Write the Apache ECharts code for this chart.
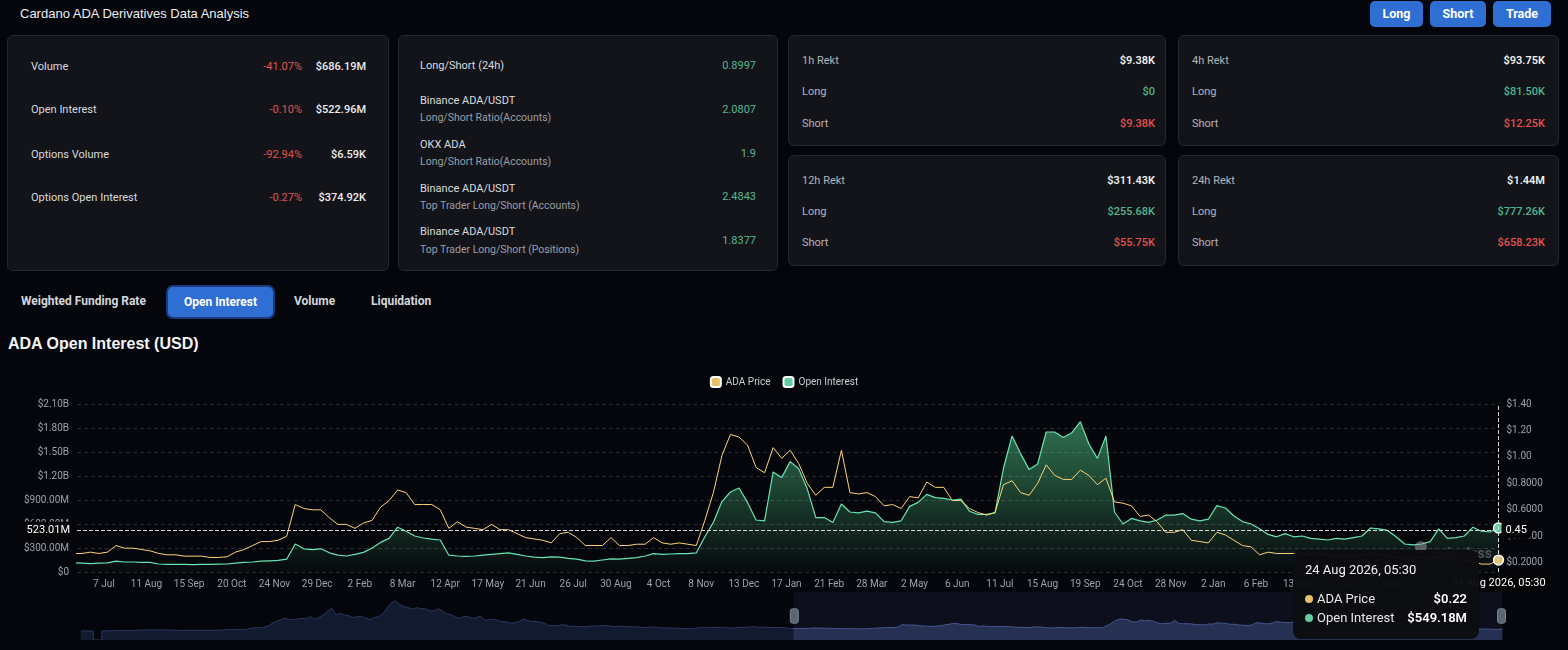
<!DOCTYPE html>
<html>
<head>
<meta charset="utf-8">
<script src="https://cdn.jsdelivr.net/npm/echarts@6/dist/echarts.min.js"></script>
<style>
html,body{margin:0;padding:0;background:#05060b;width:1568px;height:650px;overflow:hidden;font-family:Roboto,"Noto Sans",sans-serif;}
.abs{position:absolute;white-space:nowrap}
#title{left:20px;top:6px;font-size:13px;font-family:"Liberation Sans",Arial,sans-serif;color:#eceef2;line-height:16px}
.btn{position:absolute;top:1px;height:26px;line-height:26px;background:#2f6ed2;color:#fff;font-weight:700;font-size:12.5px;text-align:center;border-radius:5px}
.card{position:absolute;background:#121419;border:1px solid #24272d;border-radius:6px;box-sizing:border-box}
.row{position:absolute;height:16px;line-height:16px;font-size:11px;white-space:nowrap}
.lbl{color:#d9dbdf}
.sub{color:#9a9ea5;font-size:10.5px}
.red{color:#e0524d}
.grn{color:#55b894}
.val{color:#eceef0;font-weight:500}
.lbl2{color:#b2b5bb}
.wv{color:#f0f0f0;font-weight:600}
.gv{color:#4fb48c;font-weight:500}
.rv{color:#e4504b;font-weight:500}
.tab{position:absolute;top:293px;height:16px;line-height:16px;font-size:12px;font-weight:700;color:#d4d6da}
#activeTab{position:absolute;left:166px;top:285px;width:109px;height:34px;box-sizing:border-box;border:2px solid #1b3b7c;border-radius:7px;background:#2f6ed2;color:#fff;font-weight:700;font-size:12px;text-align:center;line-height:30px}
#chartTitle{left:8px;top:334px;font-family:"Liberation Sans",Arial,sans-serif;font-weight:700;font-size:16px;line-height:20px;color:#f4f5f7}
#chart{position:absolute;left:0;top:360px;width:1568px;height:290px}
</style>
</head>
<body>
<div id="title" class="abs">Cardano ADA Derivatives Data Analysis</div>
<div class="btn" style="left:1370px;width:53px">Long</div>
<div class="btn" style="left:1430px;width:56px">Short</div>
<div class="btn" style="left:1493px;width:58px">Trade</div>

<div class="card" style="left:7px;top:35px;width:382px;height:236px">
  <div class="row lbl" style="left:23px;top:23px">Volume</div>
  <div class="row red" style="right:86px;top:23px">-41.07%</div>
  <div class="row val" style="right:22px;top:23px">$686.19M</div>
  <div class="row lbl" style="left:23px;top:66px">Open Interest</div>
  <div class="row red" style="right:86px;top:66px">-0.10%</div>
  <div class="row val" style="right:22px;top:66px">$522.96M</div>
  <div class="row lbl" style="left:23px;top:111px">Options Volume</div>
  <div class="row red" style="right:86px;top:111px">-92.94%</div>
  <div class="row val" style="right:22px;top:111px">$6.59K</div>
  <div class="row lbl" style="left:23px;top:154px">Options Open Interest</div>
  <div class="row red" style="right:86px;top:154px">-0.27%</div>
  <div class="row val" style="right:22px;top:154px">$374.92K</div>
</div>

<div class="card" style="left:398px;top:35px;width:380px;height:236px">
  <div class="row lbl" style="left:21px;top:22px">Long/Short (24h)</div>
  <div class="row grn" style="right:21px;top:22px">0.8997</div>
  <div class="row lbl" style="left:21px;top:57px">Binance ADA/USDT</div>
  <div class="row sub" style="left:21px;top:74px">Long/Short Ratio(Accounts)</div>
  <div class="row grn" style="right:21px;top:66px">2.0807</div>
  <div class="row lbl" style="left:21px;top:101px">OKX ADA</div>
  <div class="row sub" style="left:21px;top:118px">Long/Short Ratio(Accounts)</div>
  <div class="row grn" style="right:21px;top:110px">1.9</div>
  <div class="row lbl" style="left:21px;top:145px">Binance ADA/USDT</div>
  <div class="row sub" style="left:21px;top:162px">Top Trader Long/Short (Accounts)</div>
  <div class="row grn" style="right:21px;top:153px">2.4843</div>
  <div class="row lbl" style="left:21px;top:188px">Binance ADA/USDT</div>
  <div class="row sub" style="left:21px;top:206px">Top Trader Long/Short (Positions)</div>
  <div class="row grn" style="right:21px;top:197px">1.8377</div>
</div>

<div class="card" style="left:788px;top:35px;width:378px;height:111px">
  <div class="row lbl2" style="left:13px;top:17px">1h Rekt</div>
  <div class="row wv" style="right:10px;top:17px">$9.38K</div>
  <div class="row lbl2" style="left:13px;top:48px">Long</div>
  <div class="row gv" style="right:10px;top:48px">$0</div>
  <div class="row lbl2" style="left:13px;top:80px">Short</div>
  <div class="row rv" style="right:10px;top:80px">$9.38K</div>
</div>
<div class="card" style="left:1178px;top:35px;width:381px;height:111px">
  <div class="row lbl2" style="left:13px;top:17px">4h Rekt</div>
  <div class="row wv" style="right:13px;top:17px">$93.75K</div>
  <div class="row lbl2" style="left:13px;top:48px">Long</div>
  <div class="row gv" style="right:13px;top:48px">$81.50K</div>
  <div class="row lbl2" style="left:13px;top:80px">Short</div>
  <div class="row rv" style="right:13px;top:80px">$12.25K</div>
</div>
<div class="card" style="left:788px;top:155px;width:378px;height:111px">
  <div class="row lbl2" style="left:13px;top:17px">12h Rekt</div>
  <div class="row wv" style="right:10px;top:17px">$311.43K</div>
  <div class="row lbl2" style="left:13px;top:48px">Long</div>
  <div class="row gv" style="right:10px;top:48px">$255.68K</div>
  <div class="row lbl2" style="left:13px;top:79px">Short</div>
  <div class="row rv" style="right:10px;top:79px">$55.75K</div>
</div>
<div class="card" style="left:1178px;top:155px;width:381px;height:111px">
  <div class="row lbl2" style="left:13px;top:17px">24h Rekt</div>
  <div class="row wv" style="right:13px;top:17px">$1.44M</div>
  <div class="row lbl2" style="left:13px;top:48px">Long</div>
  <div class="row gv" style="right:13px;top:48px">$777.26K</div>
  <div class="row lbl2" style="left:13px;top:79px">Short</div>
  <div class="row rv" style="right:13px;top:79px">$658.23K</div>
</div>

<div class="tab" style="left:21px">Weighted Funding Rate</div>
<div id="activeTab">Open Interest</div>
<div class="tab" style="left:294px">Volume</div>
<div class="tab" style="left:371px">Liquidation</div>
<div id="chartTitle" class="abs">ADA Open Interest (USD)</div>

<div id="chart"></div>

<script>
// ---- data (weekly samples, Mondays) ----
const firstWeek = '2020-03-30';
// ADA price (USD), one value per week from firstWeek to 2026-08-24
const priceValues = [
  0.033,0.035,0.034,0.038,null,0.05,0.047,0.05,0.055,0.08,
  0.085,0.08,0.08,0.085,0.11,0.13,0.13,0.14,0.14,0.13,
  0.14,0.12,0.10,0.09,0.09,0.10,0.10,0.10,0.10,0.10,
  0.10,0.10,0.11,0.12,0.16,0.16,0.15,0.16,0.16,0.18,
  0.31,0.33,0.35,0.38,0.50,0.75,0.95,1.10,1.25,1.10,
  1.12,1.18,1.23,1.20,1.40,1.15,1.30,1.55,1.90,2.20,
  1.55,1.72,1.55,1.50,1.30,1.40,1.40,1.25,1.10,1.30,
  1.40,1.65,2.20,2.70,2.88,2.55,2.35,2.25,2.10,2.25,
  2.15,2.15,1.95,1.95,2.15,1.95,1.65,1.60,1.35,1.25,
  1.40,1.40,1.25,1.30,1.45,1.05,1.10,1.15,1.05,0.90,
  0.90,0.78,0.82,0.95,1.15,1.05,0.93,0.95,0.85,0.78,
  0.55,0.55,0.52,0.62,0.60,0.45,0.49,0.46,0.45,0.43,
  0.52,0.50,0.51,0.55,0.54,0.46,0.45,0.49,0.48,0.44,
  0.43,0.42,0.37,0.36,0.40,0.41,0.32,0.33,0.31,0.32,
  0.31,0.27,0.26,0.25,0.27,0.33,0.35,0.37,0.39,0.37,
  0.38,0.39,0.35,0.31,0.36,0.38,0.38,0.40,0.44,0.40,
  0.39,0.38,0.36,0.37,0.37,0.37,0.30,
  0.27,0.27,0.28,0.27,0.28,0.33,0.31,0.31,0.30,0.29,
  0.27,0.26,0.26,0.25,0.25,0.25,0.24,0.24,0.245,0.28,
  0.30,0.33,0.36,0.36,0.37,0.40,0.64,0.61,0.60,0.60,
  0.54,0.49,0.49,0.46,0.50,0.52,0.62,0.67,0.75,0.73,
  0.64,0.64,0.64,0.60,0.46,0.51,0.47,0.46,0.45,0.49,
  0.45,0.45,0.42,0.39,0.38,0.37,0.35,0.42,0.43,0.39,
  0.33,0.33,0.33,0.39,0.33,0.33,0.34,0.34,0.39,0.35,
  0.34,0.35,0.34,0.33,0.52,0.73,1.01,1.17,1.15,1.09,
  0.92,0.88,1.07,0.99,1.05,0.95,0.80,0.71,0.77,0.77,
  1.05,0.73,0.72,0.73,0.70,0.63,0.64,0.61,0.70,0.69,
  0.81,0.77,0.77,0.67,0.67,0.61,0.58,0.56,0.58,0.79,
  0.82,0.73,0.71,0.80,0.94,0.86,0.83,0.83,0.90,0.86,
  0.79,0.84,0.66,0.65,0.63,0.55,0.56,0.51,0.43,0.43,
  0.45,0.37,0.36,0.35,0.43,0.41,0.37,0.33,0.32,0.26,
  0.28,0.27,0.27,0.27,0.27,0.26,0.27,0.26,0.25,0.26,
  0.25,0.26,0.27,0.26,0.25,0.24,0.23,0.23,0.24,0.23,
  0.24,0.23,0.22,0.22,0.21,0.19,0.19,0.22
];
const oiFirstWeek = '2023-06-12';
// Open interest (USD millions), one value per week from oiFirstWeek to 2026-08-24
const oiValues = [
  115,110,105,110,115,135,125,125,120,120,
  100,95,95,95,92,95,95,98,100,110,
  120,125,135,140,145,160,350,290,280,290,
  240,210,200,220,245,300,370,420,560,510,
  450,425,410,400,210,200,195,200,210,220,
  230,240,220,200,185,180,190,185,170,160,
  140,135,150,165,160,170,180,200,230,220,
  225,230,230,240,440,620,880,1000,1050,870,
  650,640,1250,1180,1380,1290,1040,680,680,620,
  850,750,740,760,740,630,620,640,820,870,
  970,930,920,900,910,760,720,720,740,1300,
  1700,1480,1280,1350,1750,1750,1680,1740,1880,1600,
  1420,1700,750,600,670,640,620,650,710,710,
  730,660,640,660,830,800,700,630,600,540,
  470,440,480,440,450,420,410,400,420,410,
  430,450,550,540,520,440,350,340,350,380,
  540,420,430,450,560,510,500,549.18
];
// x-axis tick labels
const xTickDates = ['2023-07-07','2023-08-11','2023-09-15','2023-10-20','2023-11-24','2023-12-29',
  '2024-02-02','2024-03-08','2024-04-12','2024-05-17','2024-06-21','2024-07-26','2024-08-30',
  '2024-10-04','2024-11-08','2024-12-13','2025-01-17','2025-02-21','2025-03-28','2025-05-02',
  '2025-06-06','2025-07-11','2025-08-15','2025-09-19','2025-10-24','2025-11-28','2026-01-02',
  '2026-02-06','2026-03-13','2026-04-17','2026-05-22','2026-06-26','2026-07-31'];
const priceTicks = [0.2,0.4,0.6,0.8,1.0,1.2,1.4];
const windowStart = '2023-06-15';

// ---- build ----
const MONTHS = ['Jan','Feb','Mar','Apr','May','Jun','Jul','Aug','Sep','Oct','Nov','Dec'];
const DAY = 86400000, WEEK = 7*DAY;
const utc = s => Date.parse(s + 'T00:00:00Z');
const p0 = utc(firstWeek), o0 = utc(oiFirstWeek);
const priceData = priceValues.map((v,i) => [p0 + i*WEEK, v]);
const oiData = oiValues.map((v,i) => [o0 + i*WEEK, v]);
const lastTs = priceData[priceData.length-1][0];
const pad2 = n => String(n).padStart(2,'0');
function fmtDateTime(ts){
  const d = new Date(ts + 5.5*3600000);
  return d.getUTCDate()+' '+MONTHS[d.getUTCMonth()]+' '+d.getUTCFullYear()+', '+pad2(d.getUTCHours())+':'+pad2(d.getUTCMinutes());
}
function fmtOI(v){
  if (v === 0) return '$0';
  if (v >= 1000) return '$'+(v/1000).toFixed(2)+'B';
  return '$'+v.toFixed(2)+'M';
}
const FONT = 'Roboto, "Noto Sans", sans-serif';
const PRICE_C = '#e6c16a', OI_C = '#5fd0a0';
const GRID_TOP = 44, GRID_H = 168;

const chart = echarts.init(document.getElementById('chart'));
chart.setOption({
  animation:false,
  backgroundColor:'transparent',
  textStyle:{fontFamily:FONT},
  legend:{top:11,left:'center',icon:'roundRect',itemWidth:10,itemHeight:10,itemGap:12,
    textStyle:{color:'#c9ccd1',fontSize:10},data:['ADA Price','Open Interest']},
  grid:{left:77,right:69.5,top:GRID_TOP,height:GRID_H,outerBoundsMode:'none',containLabel:false},
  tooltip:{
    trigger:'axis',
    backgroundColor:'rgba(12,13,17,0.97)',borderWidth:0,padding:[12,12],
    transitionDuration:0,
    extraCssText:'box-shadow:none;border-radius:8px;',
    axisPointer:{type:'cross',
      lineStyle:{color:'#d6d6d6',type:'dashed',width:1},
      crossStyle:{color:'#d6d6d6',type:'dashed',width:1},
      label:{backgroundColor:'#050507',color:'#fff',fontSize:11,padding:[3,4],fontFamily:FONT}},
    formatter:function(params){
      const p = Array.isArray(params)?params:[params];
      let h = '<div style="width:162px;font-family:Roboto,sans-serif">';
      h += '<div style="font-size:13px;line-height:16px;color:#f2f2f2;margin-bottom:11px">'+fmtDateTime(p[0].value[0])+'</div>';
      p.forEach(function(it){
        const v = it.value[1];
        const t = it.seriesName==='ADA Price' ? '$'+v.toFixed(2) : '$'+v.toFixed(2)+'M';
        h += '<div style="display:flex;justify-content:space-between;align-items:center;height:19px;font-size:13px;color:#e8e8e8">'+
             '<span style="display:flex;align-items:center"><span style="display:inline-block;width:8px;height:8px;border-radius:50%;background:'+it.color+';margin-right:4px"></span>'+it.seriesName+'</span>'+
             '<span style="font-weight:600;color:#fff">'+t+'</span></div>';
      });
      return h+'</div>';
    }
  },
  xAxis:{type:'value',min:priceData[0][0],max:lastTs,scale:true,
    axisLine:{show:false},axisTick:{show:false},splitLine:{show:false},
    axisLabel:{customValues:xTickDates.map(utc),color:'#9da1a8',fontSize:10,margin:7,
      formatter:function(v){const d=new Date(v);return d.getUTCDate()+' '+MONTHS[d.getUTCMonth()];}},
    axisPointer:{snap:true,label:{formatter:function(p){return fmtDateTime(p.value);}}}
  },
  yAxis:[
    {type:'value',position:'left',min:0,max:2100,interval:300,
      axisLine:{show:false},axisTick:{show:false},
      splitLine:{show:true,lineStyle:{color:'#2a2d34',type:[4,3],width:1}},
      axisLabel:{color:'#9da1a8',fontSize:10,margin:8,formatter:fmtOI},
      axisPointer:{label:{formatter:function(p){return p.value.toFixed(2)+'M';}}}},
    {type:'value',position:'right',min:0.13,max:1.4,
      axisLine:{show:false},axisTick:{show:false},splitLine:{show:false},
      axisLabel:{customValues:priceTicks,color:'#9da1a8',fontSize:10,margin:8,
        formatter:function(v){return v>=1?'$'+v.toFixed(2):'$'+v.toFixed(4);}},
      axisPointer:{label:{formatter:function(p){return p.value.toFixed(2);}}}}
  ],
  dataZoom:[{
    type:'slider',xAxisIndex:0,filterMode:'none',
    startValue:utc(windowStart),endValue:lastTs,
    left:78,right:68,top:232,height:48,
    backgroundColor:'rgba(0,0,0,0)',borderColor:'transparent',
    fillerColor:'rgba(66,86,150,0.13)',
    dataBackground:{lineStyle:{color:'#2b3760',width:1,opacity:1},areaStyle:{color:'#121a30',opacity:1}},
    selectedDataBackground:{lineStyle:{color:'#46568f',width:1,opacity:1},areaStyle:{color:'#222b4a',opacity:1}},
    handleIcon:'path://M3,0h4a3,3,0,0,1,3,3v12a3,3,0,0,1-3,3h-4a3,3,0,0,1-3-3v-12a3,3,0,0,1,3-3Z',
    handleSize:'30%',handleStyle:{color:'#5d6472',borderColor:'#7a8190',borderWidth:1},
    moveHandleSize:0,showDetail:false,brushSelect:false
  }],
  graphic:[
    {type:'circle',z:50,shape:{cx:1421,cy:187,r:6},style:{fill:'rgba(175,175,180,0.45)'}},
    {type:'text',z:50,right:76,top:187,style:{text:'coinglass',fill:'rgba(160,160,166,0.45)',font:'bold 14px Roboto'}}
  ],
  series:[
    {name:'ADA Price',type:'line',yAxisIndex:1,data:priceData,showSymbol:false,symbol:'circle',symbolSize:9,
      lineStyle:{color:PRICE_C,width:1},itemStyle:{color:PRICE_C,borderColor:'#fff',borderWidth:1.5},z:3},
    {name:'Open Interest',type:'line',yAxisIndex:0,data:oiData,showSymbol:false,symbol:'circle',symbolSize:9,
      lineStyle:{color:OI_C,width:1.2},itemStyle:{color:OI_C,borderColor:'#fff',borderWidth:1.5},
      areaStyle:{color:new echarts.graphic.LinearGradient(0,0,0,1,[
        {offset:0,color:'rgba(76,184,124,0.78)'},{offset:1,color:'rgba(76,184,124,0.03)'}])},z:2}
  ]
});
const yMouse = GRID_TOP + GRID_H - 523.01/2100*GRID_H;
chart.dispatchAction({type:'showTip',x:1498.5,y:yMouse});
</script>
</body>
</html>
